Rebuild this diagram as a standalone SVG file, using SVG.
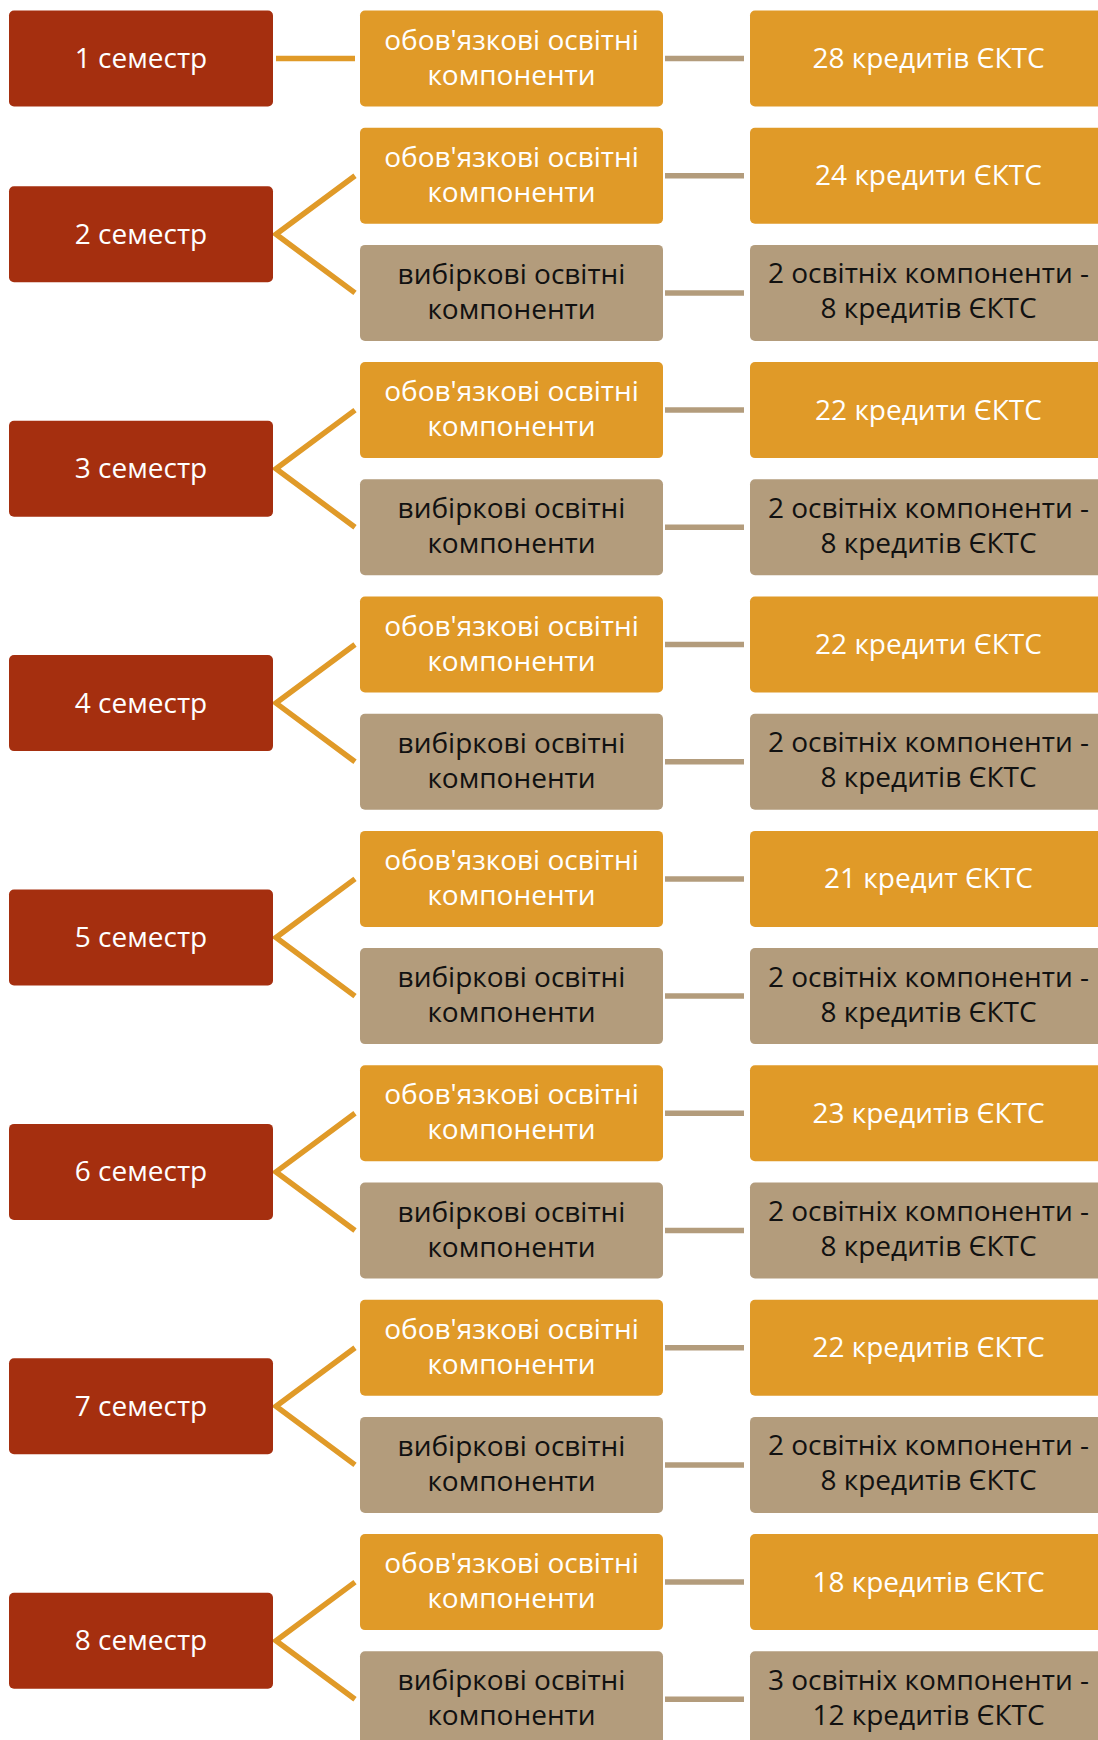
<svg xmlns="http://www.w3.org/2000/svg" width="1098" height="1740" viewBox="0 0 1098 1740">
<style>
text{font-family:"Open Sans","Noto Sans","Liberation Sans",sans-serif;font-size:28px;text-anchor:middle}
.sem rect{fill:#A52F0F}
.sem text{fill:#FFFFFF}
.ob rect{fill:#E09A28}
.ob text{fill:#FFFFFF}
.vb rect{fill:#B39C7C}
.vb text{fill:#111111}
.co{stroke:#E09A28;stroke-width:5.5;fill:none;stroke-linejoin:miter}
.ct{stroke:#B39C7C;stroke-width:5.5;fill:none}
</style>
<rect width="1098" height="1740" fill="#FFFFFF"/>
<g id="connectors">
<line class="co" x1="276" y1="58.5" x2="355" y2="58.5"/>
<polyline class="co" points="355,175.7 276,234.3 355,292.9"/>
<polyline class="co" points="355,410.1 276,468.7 355,527.3"/>
<polyline class="co" points="355,644.5 276,703.1 355,761.7"/>
<polyline class="co" points="355,878.9 276,937.5 355,996.1"/>
<polyline class="co" points="355,1113.3 276,1171.9 355,1230.5"/>
<polyline class="co" points="355,1347.7 276,1406.3 355,1464.9"/>
<polyline class="co" points="355,1582.1 276,1640.7 355,1699.3"/>
<line class="ct" x1="665" y1="58.5" x2="744" y2="58.5"/>
<line class="ct" x1="665" y1="175.7" x2="744" y2="175.7"/>
<line class="ct" x1="665" y1="292.9" x2="744" y2="292.9"/>
<line class="ct" x1="665" y1="410.1" x2="744" y2="410.1"/>
<line class="ct" x1="665" y1="527.3" x2="744" y2="527.3"/>
<line class="ct" x1="665" y1="644.5" x2="744" y2="644.5"/>
<line class="ct" x1="665" y1="761.7" x2="744" y2="761.7"/>
<line class="ct" x1="665" y1="878.9" x2="744" y2="878.9"/>
<line class="ct" x1="665" y1="996.1" x2="744" y2="996.1"/>
<line class="ct" x1="665" y1="1113.3" x2="744" y2="1113.3"/>
<line class="ct" x1="665" y1="1230.5" x2="744" y2="1230.5"/>
<line class="ct" x1="665" y1="1347.7" x2="744" y2="1347.7"/>
<line class="ct" x1="665" y1="1464.9" x2="744" y2="1464.9"/>
<line class="ct" x1="665" y1="1582.1" x2="744" y2="1582.1"/>
<line class="ct" x1="665" y1="1699.3" x2="744" y2="1699.3"/>
</g>
<!-- semesters -->
<g id="sem1" class="sem"><rect x="9" y="10.5" width="264" height="96" rx="5"/><text x="141" y="68">1 семестр</text></g>
<g id="sem2" class="sem"><rect x="9" y="186.3" width="264" height="96" rx="5"/><text x="141" y="243.8">2 семестр</text></g>
<g id="sem3" class="sem"><rect x="9" y="420.7" width="264" height="96" rx="5"/><text x="141" y="478.2">3 семестр</text></g>
<g id="sem4" class="sem"><rect x="9" y="655.1" width="264" height="96" rx="5"/><text x="141" y="712.6">4 семестр</text></g>
<g id="sem5" class="sem"><rect x="9" y="889.5" width="264" height="96" rx="5"/><text x="141" y="947">5 семестр</text></g>
<g id="sem6" class="sem"><rect x="9" y="1123.9" width="264" height="96" rx="5"/><text x="141" y="1181.4">6 семестр</text></g>
<g id="sem7" class="sem"><rect x="9" y="1358.3" width="264" height="96" rx="5"/><text x="141" y="1415.8">7 семестр</text></g>
<g id="sem8" class="sem"><rect x="9" y="1592.7" width="264" height="96" rx="5"/><text x="141" y="1650.2">8 семестр</text></g>
<!-- middle column -->
<g id="m0" class="ob"><rect x="360" y="10.5" width="303" height="96" rx="5"/><text x="511.5" y="49.5">обов'язкові освітні</text><text x="511.5" y="84.5">компоненти</text></g>
<g id="m1" class="ob"><rect x="360" y="127.7" width="303" height="96" rx="5"/><text x="511.5" y="166.7">обов'язкові освітні</text><text x="511.5" y="201.7">компоненти</text></g>
<g id="m2" class="vb"><rect x="360" y="244.9" width="303" height="96" rx="5"/><text x="511.5" y="283.9">вибіркові освітні</text><text x="511.5" y="318.9">компоненти</text></g>
<g id="m3" class="ob"><rect x="360" y="362.1" width="303" height="96" rx="5"/><text x="511.5" y="401.1">обов'язкові освітні</text><text x="511.5" y="436.1">компоненти</text></g>
<g id="m4" class="vb"><rect x="360" y="479.3" width="303" height="96" rx="5"/><text x="511.5" y="518.3">вибіркові освітні</text><text x="511.5" y="553.3">компоненти</text></g>
<g id="m5" class="ob"><rect x="360" y="596.5" width="303" height="96" rx="5"/><text x="511.5" y="635.5">обов'язкові освітні</text><text x="511.5" y="670.5">компоненти</text></g>
<g id="m6" class="vb"><rect x="360" y="713.7" width="303" height="96" rx="5"/><text x="511.5" y="752.7">вибіркові освітні</text><text x="511.5" y="787.7">компоненти</text></g>
<g id="m7" class="ob"><rect x="360" y="830.9" width="303" height="96" rx="5"/><text x="511.5" y="869.9">обов'язкові освітні</text><text x="511.5" y="904.9">компоненти</text></g>
<g id="m8" class="vb"><rect x="360" y="948.1" width="303" height="96" rx="5"/><text x="511.5" y="987.1">вибіркові освітні</text><text x="511.5" y="1022.1">компоненти</text></g>
<g id="m9" class="ob"><rect x="360" y="1065.3" width="303" height="96" rx="5"/><text x="511.5" y="1104.3">обов'язкові освітні</text><text x="511.5" y="1139.3">компоненти</text></g>
<g id="m10" class="vb"><rect x="360" y="1182.5" width="303" height="96" rx="5"/><text x="511.5" y="1221.5">вибіркові освітні</text><text x="511.5" y="1256.5">компоненти</text></g>
<g id="m11" class="ob"><rect x="360" y="1299.7" width="303" height="96" rx="5"/><text x="511.5" y="1338.7">обов'язкові освітні</text><text x="511.5" y="1373.7">компоненти</text></g>
<g id="m12" class="vb"><rect x="360" y="1416.9" width="303" height="96" rx="5"/><text x="511.5" y="1455.9">вибіркові освітні</text><text x="511.5" y="1490.9">компоненти</text></g>
<g id="m13" class="ob"><rect x="360" y="1534.1" width="303" height="96" rx="5"/><text x="511.5" y="1573.1">обов'язкові освітні</text><text x="511.5" y="1608.1">компоненти</text></g>
<g id="m14" class="vb"><rect x="360" y="1651.3" width="303" height="96" rx="5"/><text x="511.5" y="1690.3">вибіркові освітні</text><text x="511.5" y="1725.3">компоненти</text></g>
<!-- right column -->
<g id="r0" class="ob"><rect x="750" y="10.5" width="360" height="96" rx="5"/><text x="928.5" y="68">28 кредитів ЄКТС</text></g>
<g id="r1" class="ob"><rect x="750" y="127.7" width="360" height="96" rx="5"/><text x="928.5" y="185.2">24 кредити ЄКТС</text></g>
<g id="r2" class="vb"><rect x="750" y="244.9" width="360" height="96" rx="5"/><text x="928.5" y="283.4">2 освітніх компоненти -</text><text x="928.5" y="318.4">8 кредитів ЄКТС</text></g>
<g id="r3" class="ob"><rect x="750" y="362.1" width="360" height="96" rx="5"/><text x="928.5" y="419.6">22 кредити ЄКТС</text></g>
<g id="r4" class="vb"><rect x="750" y="479.3" width="360" height="96" rx="5"/><text x="928.5" y="517.8">2 освітніх компоненти -</text><text x="928.5" y="552.8">8 кредитів ЄКТС</text></g>
<g id="r5" class="ob"><rect x="750" y="596.5" width="360" height="96" rx="5"/><text x="928.5" y="654">22 кредити ЄКТС</text></g>
<g id="r6" class="vb"><rect x="750" y="713.7" width="360" height="96" rx="5"/><text x="928.5" y="752.2">2 освітніх компоненти -</text><text x="928.5" y="787.2">8 кредитів ЄКТС</text></g>
<g id="r7" class="ob"><rect x="750" y="830.9" width="360" height="96" rx="5"/><text x="928.5" y="888.4">21 кредит ЄКТС</text></g>
<g id="r8" class="vb"><rect x="750" y="948.1" width="360" height="96" rx="5"/><text x="928.5" y="986.6">2 освітніх компоненти -</text><text x="928.5" y="1021.6">8 кредитів ЄКТС</text></g>
<g id="r9" class="ob"><rect x="750" y="1065.3" width="360" height="96" rx="5"/><text x="928.5" y="1122.8">23 кредитів ЄКТС</text></g>
<g id="r10" class="vb"><rect x="750" y="1182.5" width="360" height="96" rx="5"/><text x="928.5" y="1221">2 освітніх компоненти -</text><text x="928.5" y="1256">8 кредитів ЄКТС</text></g>
<g id="r11" class="ob"><rect x="750" y="1299.7" width="360" height="96" rx="5"/><text x="928.5" y="1357.2">22 кредитів ЄКТС</text></g>
<g id="r12" class="vb"><rect x="750" y="1416.9" width="360" height="96" rx="5"/><text x="928.5" y="1455.4">2 освітніх компоненти -</text><text x="928.5" y="1490.4">8 кредитів ЄКТС</text></g>
<g id="r13" class="ob"><rect x="750" y="1534.1" width="360" height="96" rx="5"/><text x="928.5" y="1591.6">18 кредитів ЄКТС</text></g>
<g id="r14" class="vb"><rect x="750" y="1651.3" width="360" height="96" rx="5"/><text x="928.5" y="1689.8">3 освітніх компоненти -</text><text x="928.5" y="1724.8">12 кредитів ЄКТС</text></g>
</svg>
